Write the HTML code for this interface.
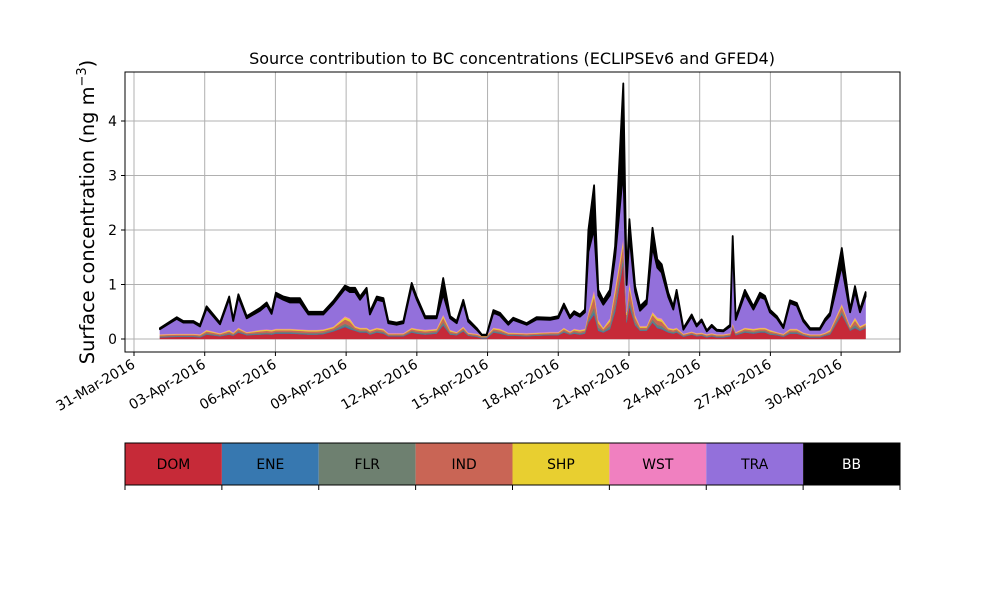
<!DOCTYPE html>
<html><head><meta charset="utf-8"><style>
body{margin:0;background:#fff}
svg text{font-family:"DejaVu Sans","Liberation Sans",sans-serif}
</style></head><body>
<svg id="chart" width="1000" height="600" viewBox="0 0 1000 600">
<rect width="1000" height="600" fill="#fff"/>
<text x="512" y="64" font-size="16" text-anchor="middle">Source contribution to BC concentrations (ECLIPSEv6 and GFED4)</text>
<g id="grid"></g><g id="areas"></g><g id="axes"></g>
<text transform="translate(94,212) rotate(-90)" font-size="19.4" text-anchor="middle">Surface concentration (ng m<tspan dy="-8" font-size="13">−3</tspan><tspan dy="8">)</tspan></text>
<g id="legend"></g>
</svg>
<script>
const times=[1.10,1.81,2.09,2.52,2.80,3.08,3.65,4.04,4.21,4.43,4.78,5.35,5.63,5.84,6.02,6.34,6.62,7.04,7.40,7.75,8.03,8.46,8.95,9.16,9.38,9.59,9.87,10.01,10.30,10.58,10.79,11.14,11.43,11.78,11.99,12.35,12.84,13.12,13.41,13.69,13.97,14.18,14.54,14.75,14.96,15.25,15.53,15.88,16.09,16.66,17.08,17.65,18.00,18.24,18.50,18.67,18.92,19.13,19.28,19.52,19.70,19.91,20.19,20.41,20.76,20.90,21.02,21.26,21.47,21.75,22.00,22.20,22.39,22.67,22.88,23.02,23.31,23.66,23.87,24.08,24.30,24.51,24.72,25.00,25.29,25.40,25.53,25.92,26.28,26.56,26.77,26.98,27.27,27.55,27.83,28.12,28.40,28.68,29.10,29.32,29.53,30.03,30.38,30.59,30.80,31.04];
const dom=[.03,.04,.04,.04,.03,.08,.05,.08,.06,.12,.07,.08,.09,.08,.10,.10,.10,.09,.08,.08,.09,.14,.22,.18,.15,.12,.12,.08,.12,.10,.05,.05,.05,.12,.10,.08,.10,.25,.08,.07,.14,.06,.04,.01,.01,.12,.10,.06,.06,.05,.06,.07,.07,.12,.08,.10,.08,.10,.30,.45,.15,.12,.18,.50,1.40,.30,.60,.25,.15,.15,.30,.20,.18,.12,.10,.12,.04,.08,.05,.06,.03,.05,.03,.03,.05,.20,.07,.12,.10,.12,.12,.08,.07,.04,.10,.10,.06,.03,.03,.06,.08,.45,.15,.20,.15,.20];
const ene=[.01,.01,.01,.01,.01,.01,.01,.01,.01,.01,.01,.01,.01,.01,.01,.01,.01,.01,.01,.01,.01,.01,.02,.02,.01,.01,.01,.01,.01,.01,.01,.01,.01,.01,.01,.01,.01,.02,.01,.01,.01,.01,.01,.01,.01,.01,.01,.01,.01,.01,.01,.01,.01,.01,.01,.01,.01,.01,.02,.05,.02,.01,.02,.05,.05,.02,.05,.02,.01,.01,.02,.02,.02,.01,.01,.01,.01,.01,.01,.01,.01,.01,.01,.01,.01,.01,.01,.01,.01,.01,.01,.01,.01,.01,.01,.01,.01,.01,.01,.01,.01,.02,.01,.02,.01,.01];
const flr=[.01,.01,.01,.01,.01,.02,.01,.02,.01,.02,.01,.02,.02,.02,.02,.02,.02,.02,.02,.02,.02,.02,.04,.04,.02,.02,.02,.02,.02,.02,.01,.01,.01,.02,.02,.02,.02,.04,.02,.01,.02,.01,.01,.01,.01,.02,.02,.01,.01,.01,.01,.01,.01,.02,.01,.02,.02,.02,.04,.08,.04,.02,.04,.08,.08,.04,.08,.04,.02,.02,.04,.04,.04,.02,.02,.02,.01,.01,.01,.01,.01,.01,.01,.01,.01,.02,.01,.02,.02,.02,.02,.02,.01,.01,.02,.02,.01,.01,.01,.01,.02,.04,.02,.04,.02,.02];
const ind=[.02,.02,.02,.02,.02,.03,.02,.03,.02,.03,.02,.03,.03,.03,.03,.03,.03,.03,.03,.03,.03,.03,.08,.08,.03,.03,.03,.03,.03,.03,.02,.02,.02,.03,.03,.03,.03,.08,.03,.02,.03,.02,.02,.02,.02,.03,.03,.02,.02,.02,.02,.02,.02,.03,.02,.03,.03,.03,.08,.20,.08,.03,.08,.20,.20,.08,.20,.08,.03,.03,.08,.08,.08,.03,.03,.03,.02,.02,.02,.02,.02,.02,.02,.02,.02,.03,.02,.03,.03,.03,.03,.03,.02,.02,.03,.03,.02,.02,.02,.02,.03,.08,.03,.08,.03,.03];
const shp=[.01,.01,.01,.01,.01,.02,.01,.02,.01,.02,.01,.02,.02,.02,.02,.02,.02,.02,.02,.02,.02,.02,.04,.04,.02,.02,.02,.02,.02,.02,.01,.01,.01,.02,.02,.02,.02,.04,.02,.01,.02,.01,.01,.01,.01,.02,.02,.01,.01,.01,.01,.01,.01,.02,.01,.02,.02,.02,.04,.08,.04,.02,.04,.08,.08,.04,.08,.04,.02,.02,.04,.04,.04,.02,.02,.02,.01,.01,.01,.01,.01,.01,.01,.01,.01,.02,.01,.02,.02,.02,.02,.02,.01,.01,.02,.02,.01,.01,.01,.01,.02,.04,.02,.04,.02,.02];
const wst=[.01,.01,.01,.01,.01,.01,.01,.01,.01,.01,.01,.01,.01,.01,.01,.01,.01,.01,.01,.01,.01,.01,.02,.02,.01,.01,.01,.01,.01,.01,.01,.01,.01,.01,.01,.01,.01,.02,.01,.01,.01,.01,.01,.01,.01,.01,.01,.01,.01,.01,.01,.01,.01,.01,.01,.01,.01,.01,.02,.05,.02,.01,.02,.05,.05,.02,.05,.02,.01,.01,.02,.02,.02,.01,.01,.01,.01,.01,.01,.01,.01,.01,.01,.01,.01,.01,.01,.01,.01,.01,.01,.01,.01,.01,.01,.01,.01,.01,.01,.01,.01,.02,.01,.02,.01,.01];
const tra=[.09,.27,.20,.20,.14,.39,.16,.57,.21,.56,.25,.35,.44,.29,.60,.53,.48,.49,.28,.28,.27,.42,.50,.48,.62,.51,.67,.28,.51,.50,.18,.15,.18,.76,.54,.21,.19,.37,.21,.16,.44,.20,.07,0,0,.27,.24,.14,.23,.15,.24,.22,.25,.39,.24,.27,.24,.30,1.10,1.11,.45,.42,.42,.54,1.23,.49,.84,.42,.28,.40,1.19,.91,.84,.56,.35,.63,.07,.27,.12,.21,.05,.12,.06,.05,.12,1.50,.22,.61,.35,.56,.52,.32,.25,.10,.47,.42,.20,.08,.08,.21,.26,.69,.25,.47,.25,.49];
const bb=[.02,.03,.03,.03,.03,.04,.03,.04,.03,.05,.04,.05,.05,.04,.06,.06,.08,.08,.05,.05,.05,.05,.06,.08,.08,.06,.06,.05,.06,.06,.04,.04,.04,.06,.05,.04,.04,.30,.04,.04,.05,.04,.03,.01,.01,.05,.05,.04,.04,.03,.04,.04,.04,.05,.04,.05,.04,.05,.40,.80,.10,.08,.10,.20,1.60,.10,.30,.10,.08,.08,.35,.15,.15,.08,.06,.06,.03,.04,.03,.03,.02,.03,.02,.02,.03,.10,.04,.08,.06,.08,.06,.05,.04,.03,.05,.05,.04,.03,.03,.04,.05,.33,.05,.10,.05,.08];
const sources=["DOM","ENE","FLR","IND","SHP","WST","TRA","BB"];
const colors=["#c62a38","#3778b0","#6e8070","#c96555","#e8cf30","#f080c0","#9370db","#000000"];
const yTicks=[0,1,2,3,4];
const xTickDays=[0,3,6,9,12,15,18,21,24,27,30];
const xTickLabels=["31-Mar-2016","03-Apr-2016","06-Apr-2016","09-Apr-2016","12-Apr-2016","15-Apr-2016","18-Apr-2016","21-Apr-2016","24-Apr-2016","27-Apr-2016","30-Apr-2016"];

const NS="http://www.w3.org/2000/svg";
const L=125,R=900,T=72,B=352;
const xs=d=>134+d*23.57;
const ys=v=>339-v*54.5;
function mk(tag,attrs,parent){const e=document.createElementNS(NS,tag);for(const k in attrs)e.setAttribute(k,attrs[k]);parent.appendChild(e);return e;}
const grid=document.getElementById('grid'),areas=document.getElementById('areas'),axes=document.getElementById('axes'),legend=document.getElementById('legend');
yTicks.forEach(v=>{
  const g=mk('line',{x1:L,x2:R,y1:ys(v),y2:ys(v),stroke:'#b0b0b0','stroke-width':1},grid);
  
  
  mk('line',{x1:L-4,x2:L,y1:ys(v),y2:ys(v),stroke:'#000'},axes);
  const t=mk('text',{x:L-8,y:ys(v)+5,'font-size':13.9,'text-anchor':'end'},axes);t.textContent=v;
  
  
});
xTickDays.forEach((d,i)=>{
  const x=xs(d);
  const g=mk('line',{x1:x,x2:x,y1:T,y2:B,stroke:'#b0b0b0','stroke-width':1},grid);
  
  
  mk('line',{x1:x,x2:x,y1:B,y2:B+4,stroke:'#000'},axes);
  const t=mk('text',{x:x+2,y:B+15,'font-size':13.9,'text-anchor':'end',transform:`rotate(-30 ${x+2} ${B+15})`},axes);t.textContent=xTickLabels[i];
  
  
});
const series=[dom,ene,flr,ind,shp,wst,tra,bb];
let base=times.map(()=>0);
series.forEach((s,k)=>{
  const top=base.map((b,i)=>b+s[i]);
  let pts=times.map((t,i)=>xs(t).toFixed(1)+','+ys(top[i]).toFixed(1));
  let bpts=times.map((t,i)=>xs(t).toFixed(1)+','+ys(base[i]).toFixed(1)).reverse();
  const p=mk('polygon',{points:pts.concat(bpts).join(' '),fill:colors[k],stroke:colors[k],'stroke-width':k==7?1.8:0.4,'stroke-linejoin':'round'},areas);
  
  
  base=top;
});
const fr=mk('rect',{x:L,y:T,width:R-L,height:B-T,fill:'none',stroke:'#000','stroke-width':1},axes);


const cw=(R-L)/sources.length;
sources.forEach((s,i)=>{
  const r=mk('rect',{x:L+i*cw,y:443,width:cw,height:42,fill:colors[i]},legend);
  
  
  const t=mk('text',{x:L+i*cw+cw/2,y:469,'font-size':13.9,'text-anchor':'middle',fill:i==7?'#fff':'#000'},legend);t.textContent=s;
  
  
});
for(let i=0;i<=sources.length;i++){mk('line',{x1:L+i*cw,x2:L+i*cw,y1:485,y2:490,stroke:'#000'},legend);}
const lb=mk('rect',{x:L,y:443,width:R-L,height:42,fill:'none',stroke:'#000'},legend);


</script>
</body></html>
